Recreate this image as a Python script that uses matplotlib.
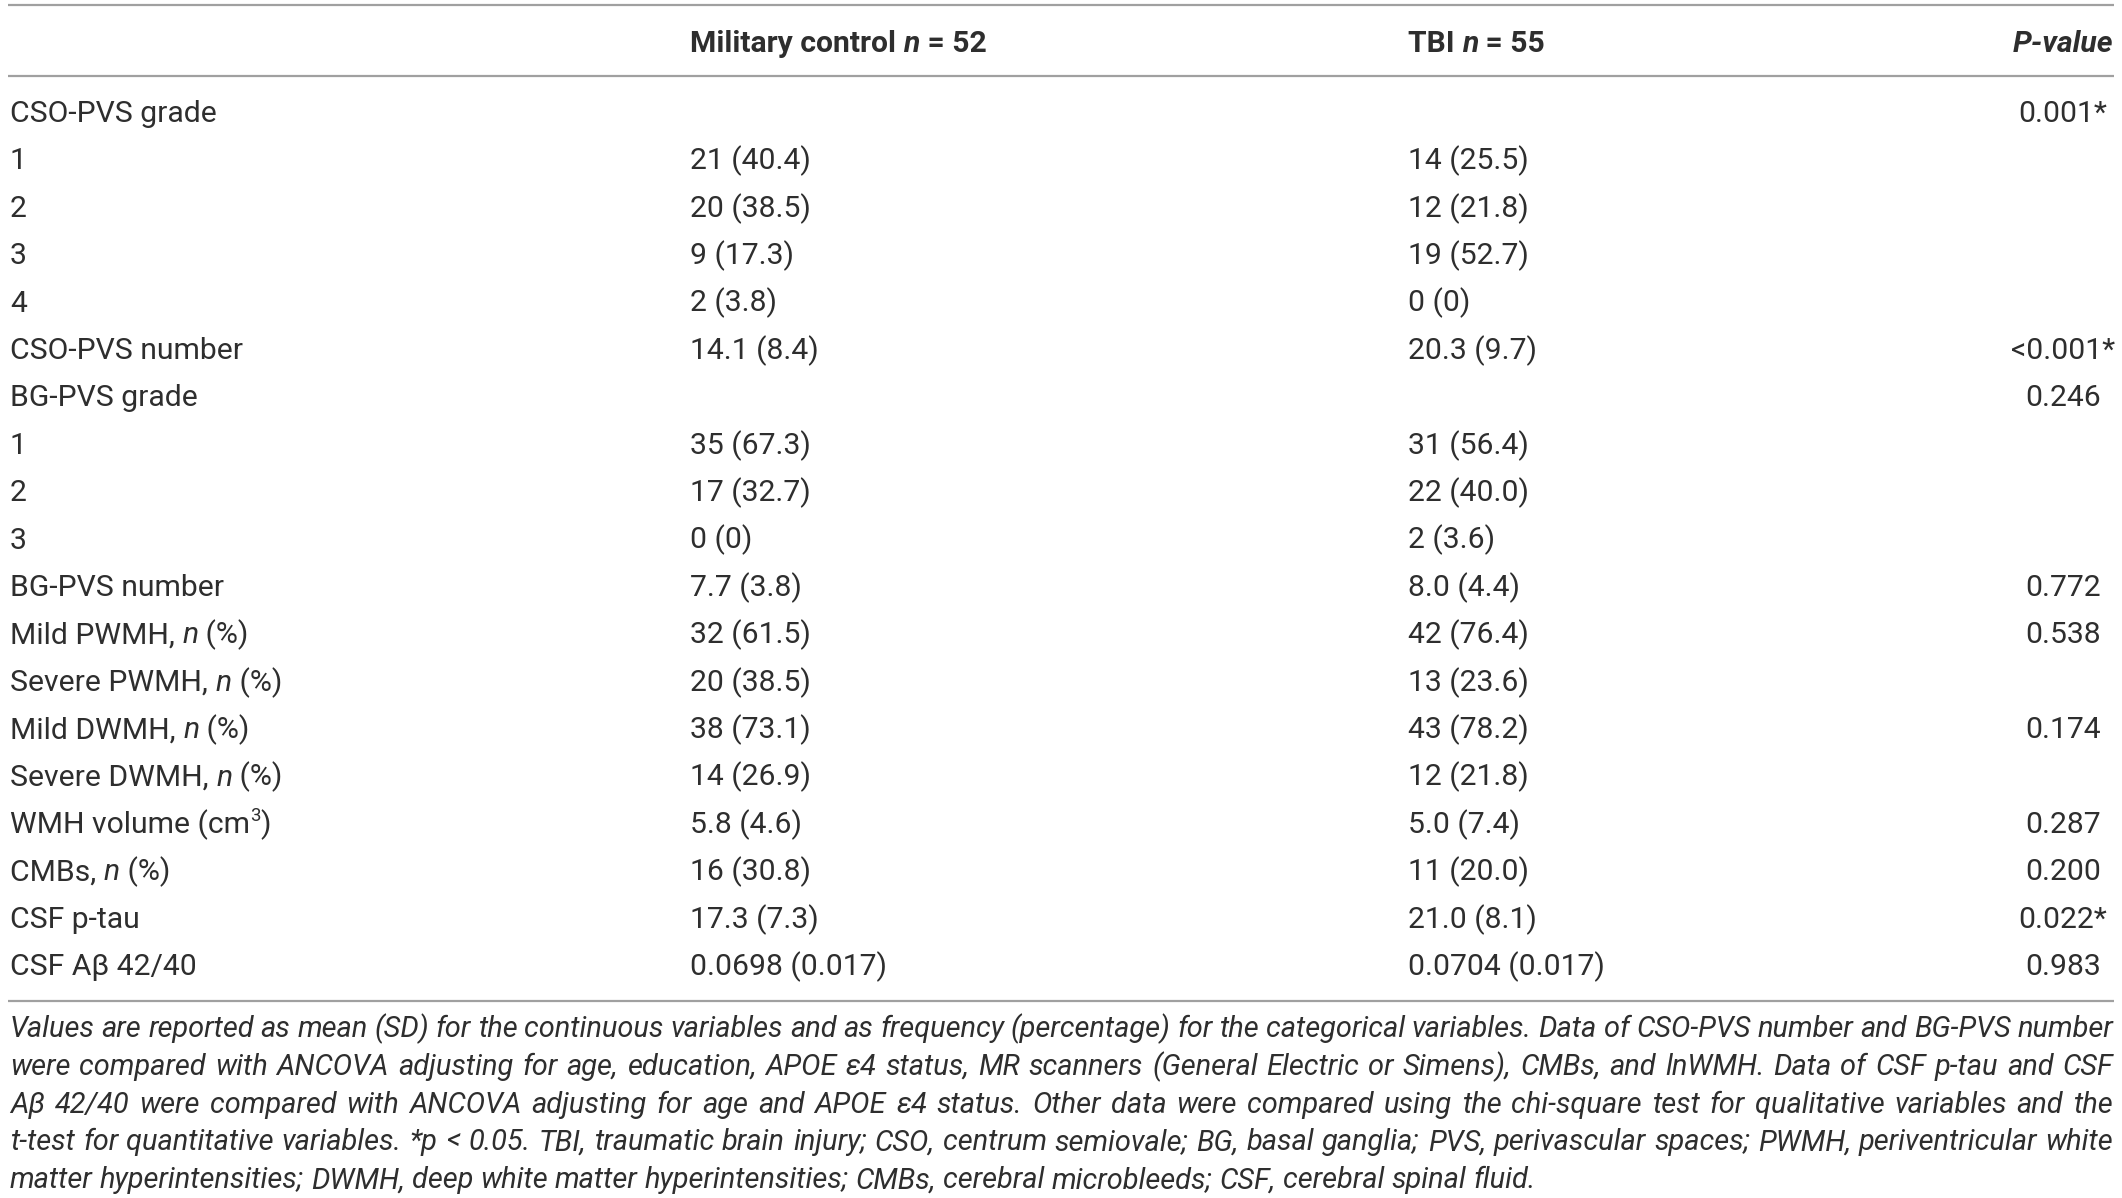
import matplotlib
matplotlib.use("Agg")
import matplotlib.pyplot as plt
import re

W, H = 2122, 1198
DPI = 100

# ---------------- data ----------------
header_cols = ["Military control *n* = 52", "TBI *n* = 55", "*P-value*"]
row_labels = ["CSO-PVS grade", "1", "2", "3", "4", "CSO-PVS number",
              "BG-PVS grade", "1", "2", "3", "BG-PVS number",
              "Mild PWMH, *n* (%)", "Severe PWMH, *n* (%)",
              "Mild DWMH, *n* (%)", "Severe DWMH, *n* (%)",
              "WMH volume (cm^3^)", "CMBs, *n* (%)", "CSF p-tau", "CSF A\u03b2 42/40"]
control_vals = ["", "21 (40.4)", "20 (38.5)", "9 (17.3)", "2 (3.8)", "14.1 (8.4)",
                "", "35 (67.3)", "17 (32.7)", "0 (0)", "7.7 (3.8)",
                "32 (61.5)", "20 (38.5)", "38 (73.1)", "14 (26.9)",
                "5.8 (4.6)", "16 (30.8)", "17.3 (7.3)", "0.0698 (0.017)"]
tbi_vals = ["", "14 (25.5)", "12 (21.8)", "19 (52.7)", "0 (0)", "20.3 (9.7)",
            "", "31 (56.4)", "22 (40.0)", "2 (3.6)", "8.0 (4.4)",
            "42 (76.4)", "13 (23.6)", "43 (78.2)", "12 (21.8)",
            "5.0 (7.4)", "11 (20.0)", "21.0 (8.1)", "0.0704 (0.017)"]
p_vals = ["0.001*", "", "", "", "", "<0.001*", "0.246", "", "", "",
          "0.772", "0.538", "", "0.174", "", "0.287", "0.200", "0.022*", "0.983"]
caption_lines = [
    "Values are reported as mean (SD) for the continuous variables and as frequency (percentage) for the categorical variables. Data of CSO-PVS number and BG-PVS number",
    "were compared with ANCOVA adjusting for age, education, APOE \u03b54 status, MR scanners (General Electric or Simens), CMBs, and lnWMH. Data of CSF p-tau and CSF",
    "A\u03b2 42/40 were compared with ANCOVA adjusting for age and APOE \u03b54 status. Other data were compared using the chi-square test for qualitative variables and the",
    "t-test for quantitative variables. *p < 0.05. TBI, traumatic brain injury; CSO, centrum semiovale; BG, basal ganglia; PVS, perivascular spaces; PWMH, periventricular white",
    "matter hyperintensities; DWMH, deep white matter hyperintensities; CMBs, cerebral microbleeds; CSF, cerebral spinal fluid.",
]

# ---------------- style ----------------
FONT = ["Roboto", "DejaVu Sans"]
TXT = "#2e2e2e"
LINE = "#a0a0a0"
FS = 21.7
CAP_FS = 20.9
WEIGHT = "normal"

fig = plt.figure(figsize=(W / DPI, H / DPI), dpi=DPI)
ax = fig.add_axes([0, 0, 1, 1])
ax.set_xlim(0, W)
ax.set_ylim(H, 0)
ax.axis("off")
fig.canvas.draw()
R = fig.canvas.get_renderer()


def parse(s):
    """split into runs: *x* italic, ^x^ superscript"""
    runs = []
    for tok in re.split(r"(\*[^*]+\*|\^[^^]+\^)", s):
        if not tok:
            continue
        if tok.startswith("*") and tok.endswith("*") and len(tok) > 2:
            runs.append((tok[1:-1], "italic", False))
        elif tok.startswith("^"):
            runs.append((tok[1:-1], "normal", True))
        else:
            runs.append((tok, "normal", False))
    return runs


def draw_runs(x, y, s, ha="left", weight=WEIGHT, size=FS):
    runs = parse(s)
    objs = []
    for txt, style, sup in runs:
        fs = size * 0.62 if sup else size
        t = ax.text(0, 0, txt, fontsize=fs, fontstyle=style, fontweight=weight,
                    family=FONT, color=TXT, va="baseline", ha="left")
        objs.append((t, sup))
    widths = [t.get_window_extent(R).width for t, _ in objs]
    total = sum(widths)
    if ha == "left":
        x0 = x
    elif ha == "center":
        x0 = x - total / 2
    else:
        x0 = x - total
    for (t, sup), w in zip(objs, widths):
        t.set_position((x0, y - (size * 0.55 if sup else 0)))
        x0 += w


def hline(y):
    ax.plot([8, 2114], [y, y], color=LINE, lw=1.6, solid_capstyle="butt")


COL_X = [10, 690, 1408]
P_X = 2063
BASE_OFF = 11  # baseline below visual centre

hline(5)
hline(76)
hline(1001)

hy = 41 + BASE_OFF
draw_runs(COL_X[1], hy, header_cols[0], weight="bold")
draw_runs(COL_X[2], hy, header_cols[1], weight="bold")
draw_runs(P_X, hy, header_cols[2], ha="center", weight="bold")

y0, dy = 111, 47.4
for i in range(len(row_labels)):
    y = y0 + i * dy + BASE_OFF
    draw_runs(COL_X[0], y, row_labels[i])
    if control_vals[i]:
        draw_runs(COL_X[1], y, control_vals[i])
    if tbi_vals[i]:
        draw_runs(COL_X[2], y, tbi_vals[i])
    if p_vals[i]:
        draw_runs(P_X, y, p_vals[i], ha="center")

# caption, justified
cx0, cx1 = 10, 2113
cap_y0, cap_dy = 1026, 37.8
sp = ax.text(0, 0, "a a", fontsize=CAP_FS, fontstyle="italic", fontweight=WEIGHT, family=FONT)
sp2 = ax.text(0, 0, "aa", fontsize=CAP_FS, fontstyle="italic", fontweight=WEIGHT, family=FONT)
nat_gap = sp.get_window_extent(R).width - sp2.get_window_extent(R).width
sp.remove(); sp2.remove()
for li, line in enumerate(caption_lines):
    y = cap_y0 + li * cap_dy + BASE_OFF
    words = line.split(" ")
    objs = [ax.text(0, 0, w, fontsize=CAP_FS, fontstyle="italic", fontweight=WEIGHT,
                    family=FONT, color=TXT, va="baseline", ha="left") for w in words]
    ws = [o.get_window_extent(R).width for o in objs]
    if li < len(caption_lines) - 1:
        gap = (cx1 - cx0 - sum(ws)) / (len(words) - 1)
    else:
        gap = nat_gap
    if gap < nat_gap * 0.7:
        # too tight: shrink the words of this line slightly
        scale = (cx1 - cx0 - nat_gap * 0.85 * (len(words) - 1)) / sum(ws)
        for o in objs:
            o.set_fontsize(CAP_FS * scale)
        ws = [o.get_window_extent(R).width for o in objs]
        gap = (cx1 - cx0 - sum(ws)) / (len(words) - 1)
    x = cx0
    for o, w in zip(objs, ws):
        o.set_position((x, y))
        x += w + gap

fig.savefig("out.png", dpi=DPI, facecolor="white")
